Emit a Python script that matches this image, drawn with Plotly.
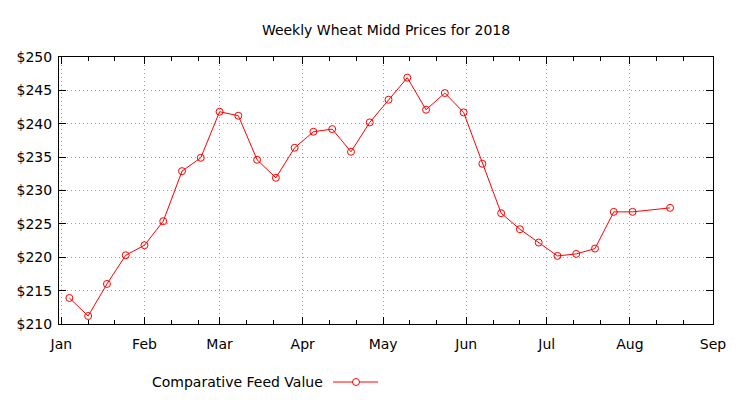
import plotly.graph_objects as go

title = "Weekly Wheat Midd Prices for 2018"
series_name = "Comparative Feed Value"

dates = [
    "2018-01-04", "2018-01-11", "2018-01-18", "2018-01-25",
    "2018-02-01", "2018-02-08", "2018-02-15", "2018-02-22",
    "2018-03-01", "2018-03-08", "2018-03-15", "2018-03-22", "2018-03-29",
    "2018-04-05", "2018-04-12", "2018-04-19", "2018-04-26",
    "2018-05-03", "2018-05-10", "2018-05-17", "2018-05-24", "2018-05-31",
    "2018-06-07", "2018-06-14", "2018-06-21", "2018-06-28",
    "2018-07-05", "2018-07-12", "2018-07-19", "2018-07-26",
    "2018-08-02", "2018-08-16",
]
prices = [
    213.9, 211.2, 216.0, 220.3,
    221.8, 225.4, 232.9, 234.9,
    241.8, 241.2, 234.6, 231.9, 236.4,
    238.8, 239.2, 235.8, 240.2,
    243.6, 246.9, 242.1, 244.6, 241.7,
    234.0, 226.6, 224.2, 222.2,
    220.2, 220.5, 221.3, 226.8,
    226.8, 227.4,
]

month_ticks = ["2018-01-01", "2018-02-01", "2018-03-01", "2018-04-01", "2018-05-01",
               "2018-06-01", "2018-07-01", "2018-08-01", "2018-09-01"]
month_labels = ["Jan", "Feb", "Mar", "Apr", "May", "Jun", "Jul", "Aug", "Sep"]
minor_ticks = ["2018-01-11", "2018-01-21", "2018-02-11", "2018-02-21", "2018-03-11", "2018-03-21",
               "2018-04-11", "2018-04-21", "2018-05-11", "2018-05-21", "2018-06-11", "2018-06-21",
               "2018-07-11", "2018-07-21", "2018-08-11", "2018-08-21"]
y_ticks = [210, 215, 220, 225, 230, 235, 240, 245, 250]

RED = "#ff0000"
GRID = "#a0a0a0"
FONT = "DejaVu Sans"

fig = go.Figure()
fig.add_trace(go.Scatter(
    x=dates, y=prices, mode="lines+markers", name=series_name,
    line=dict(color=RED, width=1),
    marker=dict(symbol="circle-open", size=7, color=RED, line=dict(width=1, color=RED)),
    showlegend=False,
))

fig.update_layout(
    width=740, height=400,
    margin=dict(l=59, r=27, t=57, b=76),
    paper_bgcolor="white", plot_bgcolor="white",
    font=dict(family=FONT, size=14, color="black"),
    title=dict(text=title, x=0.5, xref="paper", y=1 - 30 / 400, yanchor="middle",
               font=dict(family=FONT, size=14, color="black")),
    xaxis=dict(
        type="date", range=["2017-12-31 03:00", "2018-09-01"],
        tickmode="array", tickvals=month_ticks, ticktext=month_labels,
        ticks="inside", ticklen=7, tickcolor="black", tickwidth=1,
        ticklabelstandoff=7,
        showgrid=True, gridcolor=GRID, gridwidth=1, griddash="1px,3px",
        showline=True, linecolor="black", linewidth=1, mirror="allticks",
        zeroline=False,
        minor=dict(tickmode="array", tickvals=minor_ticks, ticks="inside", ticklen=4,
                   tickcolor="black", showgrid=False),
        tickfont=dict(family=FONT, size=14, color="black"),
    ),
    yaxis=dict(
        range=[210, 250], tickmode="array", tickvals=y_ticks,
        ticktext=["$" + str(v) for v in y_ticks],
        ticks="inside", ticklen=7, tickcolor="black", tickwidth=1,
        ticklabelstandoff=3,
        showgrid=True, gridcolor=GRID, gridwidth=1, griddash="1px,3px",
        showline=True, linecolor="black", linewidth=1, mirror="allticks",
        zeroline=False,
        tickfont=dict(family=FONT, size=14, color="black"),
    ),
)

# legend drawn in gnuplot style: text, then sample line with marker
lx_text = (325 - 59) / 654
ly = (324 - 382) / 267
fig.add_annotation(text=series_name, xref="paper", yref="paper", x=lx_text, y=ly,
                   xanchor="right", yanchor="middle", showarrow=False,
                   font=dict(family=FONT, size=14, color="black"))
x0 = (333 - 59) / 654
x1 = (378 - 59) / 654
xm = (356 - 59) / 654
rx = 3.5 / 654
ry = 3.5 / 267
fig.add_shape(type="line", xref="paper", yref="paper", x0=x0, x1=x1, y0=ly, y1=ly,
              line=dict(color=RED, width=1))
fig.add_shape(type="circle", xref="paper", yref="paper", x0=xm - rx, x1=xm + rx,
              y0=ly - ry, y1=ly + ry, line=dict(color=RED, width=1), fillcolor="white")

fig.write_html("out.html", config={"displayModeBar": False},
               post_script="document.body.style.margin='0';")
